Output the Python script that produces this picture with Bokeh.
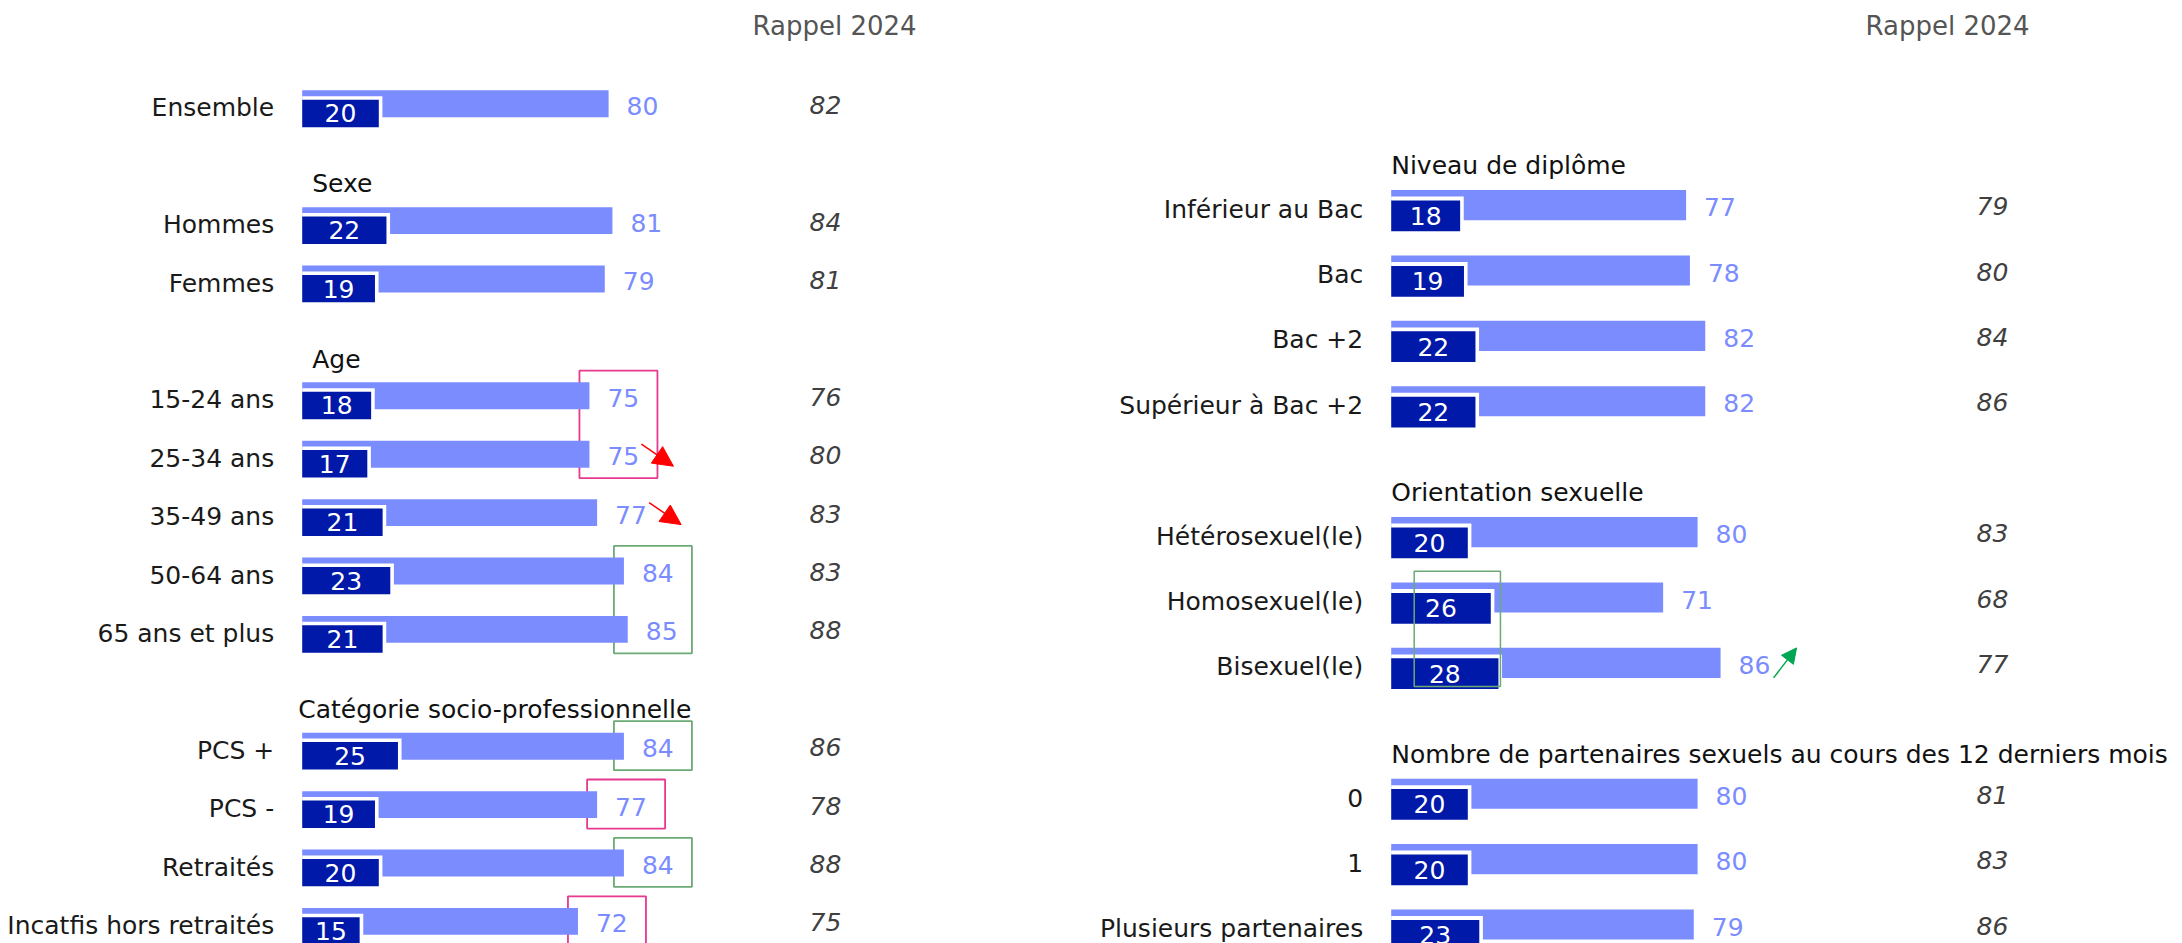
from bokeh.plotting import figure
from bokeh.models import ColumnDataSource, Range1d, Arrow, NormalHead
from bokeh.layouts import row
from bokeh.embed import file_html
from bokeh.resources import INLINE
from bokeh.core.properties import value

# ---------------- data ----------------
rappel_title = "Rappel 2024"

left_groups = ["", "Sexe", "Age", "Catégorie socio-professionnelle"]
left_group_sizes = [1, 2, 5, 4]
left_labels = ["Ensemble", "Hommes", "Femmes", "15-24 ans", "25-34 ans", "35-49 ans",
               "50-64 ans", "65 ans et plus", "PCS +", "PCS -", "Retraités",
               "Incatfis hors retraités"]
left_total = [80, 81, 79, 75, 75, 77, 84, 85, 84, 77, 84, 72]
left_part = [20, 22, 19, 18, 17, 21, 23, 21, 25, 19, 20, 15]
left_rappel = [82, 84, 81, 76, 80, 83, 83, 88, 86, 78, 88, 75]

right_groups = ["Niveau de diplôme", "Orientation sexuelle",
                "Nombre de partenaires sexuels au cours des 12 derniers mois"]
right_group_sizes = [4, 3, 3]
right_labels = ["Inférieur au Bac", "Bac", "Bac +2", "Supérieur à Bac +2",
                "Hétérosexuel(le)", "Homosexuel(le)", "Bisexuel(le)",
                "0", "1", "Plusieurs partenaires"]
right_total = [77, 78, 82, 82, 80, 71, 86, 80, 80, 79]
right_part = [18, 19, 22, 22, 20, 26, 28, 20, 20, 23]
right_rappel = [79, 80, 84, 86, 83, 68, 77, 81, 83, 86]

# highlighted cells (significant changes)
left_boxes = [("pink", ["15-24 ans", "25-34 ans"]), ("green", ["50-64 ans", "65 ans et plus"]),
              ("green", ["PCS +"]), ("pink", ["PCS -"]), ("green", ["Retraités"]),
              ("pink", ["Incatfis hors retraités"])]
left_arrows_down = ["25-34 ans", "35-49 ans"]
right_part_boxes = [("green", ["Homosexuel(le)", "Bisexuel(le)"])]
right_arrows_up = ["Bisexuel(le)"]

# ---------------- styles ----------------
LIGHT = "#7B8CFF"
DARK = "#0019A8"
BOX_COL = {"pink": "#E8388F", "green": "#6BAA75"}
RED = "#FF0000"
GREEN_ARROW = "#00A651"
FONT = "DejaVu Sans"
FS = "25px"
K = 3.83          # pixels per percentage point
H = 943


def row_positions(sizes, head_off):
    ys, heads = [], []
    r = 0
    for n in sizes:
        heads.append(r - head_off)
        ys.extend(range(r, r + n))
        r += n + 1
    return ys, heads


def make_panel(labels, total, part, rappel, sizes, width, origin_px, row0_px,
               row_px, rappel_px, head_off):
    x_start = -origin_px / K
    p = figure(width=width, height=H,
               x_range=Range1d(x_start, x_start + width / K),
               y_range=Range1d((H - row0_px) / row_px, -row0_px / row_px),
               output_backend="svg", toolbar_location=None,
               x_axis_location=None, y_axis_location=None,
               min_border=0, outline_line_color=None,
               background_fill_color="white", border_fill_color="white")
    p.grid.visible = False

    def dx(px):
        return px / K

    def dy(px):
        return px / row_px

    ys, heads = row_positions(sizes, head_off)
    n = len(labels)
    src = ColumnDataSource(dict(
        y=ys, label=labels, total=total, part=part,
        rappel=[str(v) for v in rappel],
        total_txt=[str(v) for v in total], part_txt=[str(v) for v in part],
        zero=[0] * n,
        label_x=[dx(-28)] * n,
        label_y=[y + dy(4) for y in ys],
        val_x=[t + dx(18) for t in total],
        val_y=[y + dy(2) for y in ys],
        dark_y=[y + 0.165 for y in ys],
        shadow_y=[y + 0.135 for y in ys],
        shadow_r=[v + dx(3.6) for v in part],
        part_x=[v / 2 for v in part],
        rap_x=[dx(rappel_px)] * n,
        rap_y=[y + dy(1) for y in ys],
    ))
    return p, src, ys, heads, dx, dy


def draw_bars(p, src):
    p.hbar(y="y", left="zero", right="total", height=0.46, source=src,
           fill_color=LIGHT, line_color=None)
    p.hbar(y="shadow_y", left="zero", right="shadow_r", height=0.53, source=src,
           fill_color="white", line_color=None)
    p.hbar(y="dark_y", left="zero", right="part", height=0.47, source=src,
           fill_color=DARK, line_color=None)


def draw_texts(p, src, groups, heads, head_dx, dx, title_y, title_px):
    p.text(x="label_x", y="label_y", text="label", source=src, text_align="right",
           text_baseline="middle", text_font=value(FONT), text_font_size=FS,
           text_color="#1A1A1A")
    p.text(x="val_x", y="val_y", text="total_txt", source=src, text_align="left",
           text_baseline="middle", text_font=value(FONT), text_font_size=FS,
           text_color=LIGHT)
    p.text(x="part_x", y="dark_y", text="part_txt", source=src, text_align="center",
           text_baseline="middle", text_font=value(FONT), text_font_size=FS,
           text_color="white")
    p.text(x="rap_x", y="rap_y", text="rappel", source=src, text_align="center",
           text_baseline="middle", text_font=value(FONT), text_font_size=FS,
           text_font_style="italic", text_color="#404040")
    hx = [dx(d) for d, g in zip(head_dx, groups) if g]
    hy = [h for h, g in zip(heads, groups) if g]
    ht = [g for g in groups if g]
    p.text(x=hx, y=hy, text=ht, text_align="left", text_baseline="middle",
           text_font=value(FONT), text_font_size=FS, text_color="#111111")
    p.text(x=[dx(title_px)], y=[title_y], text=[rappel_title], text_align="center",
           text_baseline="middle", text_font=value(FONT), text_font_size="26px",
           text_color="#555555")


# ---------------- left panel ----------------
L_ROW0, L_ROWPX = 103.3, 58.4
pl, srcl, ysl, headsl, dxl, dyl = make_panel(
    left_labels, left_total, left_part, left_rappel, left_group_sizes,
    1048, 301.7, L_ROW0, L_ROWPX, 523.3, 0.63)

idx_l = {lab: i for i, lab in enumerate(left_labels)}
for col, rows_ in left_boxes:
    ii = [idx_l[r] for r in rows_]
    lo = min(left_total[i] for i in ii) + dxl(-10)
    pl.quad(left=[lo], right=[lo + dxl(78)], top=[ysl[ii[0]] - 0.43],
            bottom=[ysl[ii[-1]] + 0.41], fill_color=None, line_color=BOX_COL[col],
            line_width=1.8)
draw_bars(pl, srcl)
draw_texts(pl, srcl, left_groups, headsl, [0, 10, 10, -4], dxl,
           (25 - L_ROW0) / L_ROWPX, 532.3)
for lab in left_arrows_down:
    i = idx_l[lab]
    t = left_total[i]
    pl.add_layout(Arrow(end=NormalHead(size=20, fill_color=RED, line_color=RED),
                        x_start=t + dxl(52), y_start=ysl[i] - dyl(10),
                        x_end=t + dxl(84), y_end=ysl[i] + dyl(12),
                        line_color=RED, line_width=1.5))

# ---------------- right panel ----------------
R_ROW0, R_ROWPX = 204.6, 65.4
pr, srcr, ysr, headsr, dxr, dyr = make_panel(
    right_labels, right_total, right_part, right_rappel, right_group_sizes,
    1134, 342.7, R_ROW0, R_ROWPX, 601.3, 0.6)

idx_r = {lab: i for i, lab in enumerate(right_labels)}
draw_bars(pr, srcr)
draw_texts(pr, srcr, right_groups, headsr, [0, 0, 0], dxr,
           (25 - R_ROW0) / R_ROWPX, 556.3)
for col, rows_ in right_part_boxes:
    ii = [idx_r[r] for r in rows_]
    hi = max(right_part[i] for i in ii) + dxr(2)
    pr.quad(left=[dxr(23)], right=[hi], top=[ysr[ii[0]] - 0.40],
            bottom=[ysr[ii[-1]] + 0.36], fill_color=None, line_color=BOX_COL[col],
            line_width=1.5)
for lab in right_arrows_up:
    i = idx_r[lab]
    t = right_total[i]
    pr.add_layout(Arrow(end=NormalHead(size=15, fill_color=GREEN_ARROW, line_color=GREEN_ARROW),
                        x_start=t + dxr(53), y_start=ysr[i] + dyr(15),
                        x_end=t + dxr(76), y_end=ysr[i] - dyr(15),
                        line_color=GREEN_ARROW, line_width=1.5))

layout = row(pl, pr, spacing=0)
open("out.html", "w").write(file_html(layout, INLINE))
